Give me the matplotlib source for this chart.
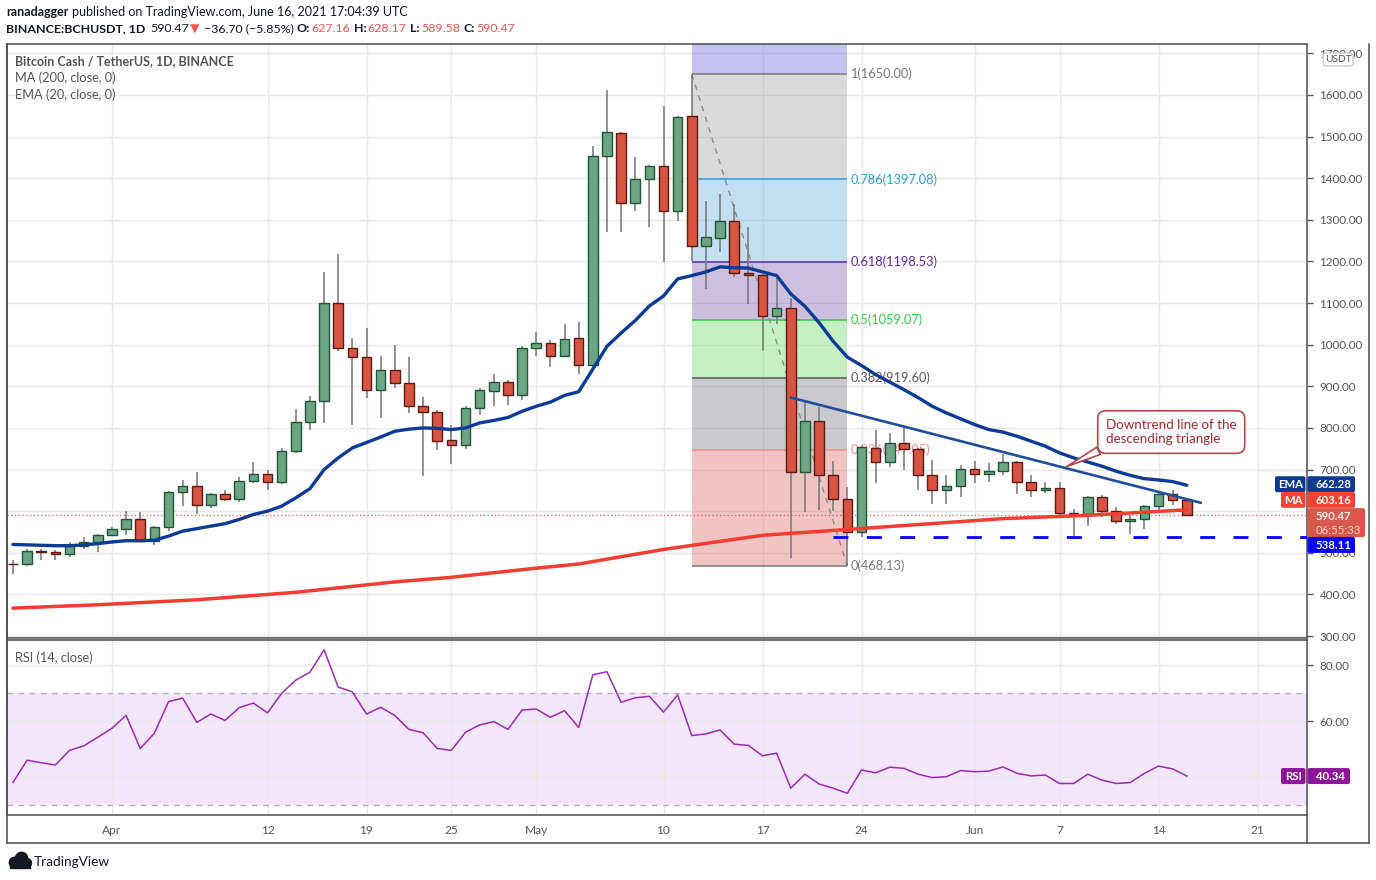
import numpy as np
import pandas as pd
import matplotlib
matplotlib.use("Agg")
import matplotlib.pyplot as plt
from matplotlib.patches import Rectangle, FancyBboxPatch, Circle
from matplotlib.colors import to_rgb

plt.rcParams["font.family"] = ["Lato", "DejaVu Sans"]

# ---------------- data ----------------
dates = pd.date_range("2021-03-25", "2021-06-16", freq="D")
opens = [474, 472, 505, 501, 496, 517, 525, 542, 556, 580,
         529, 561, 647, 661, 615, 642, 630, 673, 690, 671,
         745, 814, 864, 1101, 991, 971, 891, 938, 907, 852,
         838, 771, 759, 848, 888, 910, 879, 993, 1003, 972,
         1015, 951, 1453, 1508, 1340, 1398, 1429, 1321, 1549, 1237,
         1256, 1297, 1172, 1167, 1069, 1087, 694, 816, 687, 630,
         550, 752, 718, 764, 750, 687, 651, 660, 702, 690,
         697, 718, 670, 650, 656, 596, 593, 634, 601, 577,
         580, 612, 641, 627.16]
highs = [482, 509, 510, 507, 525, 537, 545, 561, 600, 597,
         565, 649, 674, 695, 644, 650, 681, 717, 700, 752,
         846, 877, 1174, 1218, 1015, 1039, 973, 999, 970, 875,
         844, 808, 852, 895, 930, 915, 998, 1030, 1011, 1049,
         1055, 1478, 1612, 1512, 1450, 1431, 1574, 1550, 1650, 1346,
         1362, 1338, 1283, 1170, 1164, 1112, 864, 850, 720, 658,
         756, 794, 788, 808, 752, 722, 687, 712, 720, 716,
         737, 720, 687, 670, 670, 604, 636, 640, 610, 591,
         615, 643, 652, 628.17]
lows = [450, 469, 483, 483, 491, 509, 502, 540, 543, 529,
        518, 553, 612, 594, 608, 624, 622, 667, 651, 666,
        740, 796, 813, 985, 806, 871, 825, 897, 837, 684,
        746, 713, 750, 830, 852, 856, 868, 974, 947, 970,
        929, 945, 1270, 1270, 1322, 1282, 1198, 1298, 1200, 1133,
        1222, 1162, 1098, 986, 1050, 488, 598, 602, 600, 468.13,
        538, 668, 706, 698, 650, 618, 616, 634, 668, 670,
        686, 642, 634, 644, 588, 540, 565, 586, 569, 545,
        557, 598, 614, 589.58]
closes = [472, 505, 501, 496, 517, 525, 542, 556, 580, 529,
          561, 647, 661, 615, 642, 630, 673, 690, 671, 745,
          814, 864, 1101, 991, 971, 891, 938, 907, 852, 838,
          769, 759, 848, 891, 910, 879, 993, 1003, 972, 1013,
          950, 1453, 1510, 1340, 1398, 1429, 1321, 1546, 1237, 1258,
          1297, 1172, 1167, 1069, 1087, 694, 816, 687, 630, 550,
          754, 718, 764, 750, 687, 651, 660, 702, 690, 697,
          718, 670, 650, 656, 596, 593, 634, 601, 577, 580,
          612, 641, 627, 590.47]
ema20 = [520, 519, 518, 517, 517, 519, 522, 526, 529, 529,
         530, 540, 552, 558, 564, 570, 580, 592, 600, 612,
         632, 654, 700, 728, 752, 765, 778, 792, 797, 800,
         799, 796, 800, 812, 818, 825, 840, 852, 862, 878,
         887, 941, 996, 1028, 1058, 1093, 1117, 1158, 1166, 1175,
         1187, 1185, 1184, 1175, 1166, 1122, 1092, 1053, 1008, 970,
         950, 928, 910, 892, 873, 852, 836, 822, 808, 796,
         790, 780, 768, 756, 740, 728, 718, 708, 696, 686,
         678, 675, 671, 662.28]
ma200_dates = ["2021-03-25", "2021-03-31", "2021-04-07", "2021-04-14", "2021-04-21",
               "2021-04-25", "2021-05-01", "2021-05-04", "2021-05-10", "2021-05-17",
               "2021-05-23", "2021-06-03", "2021-06-09", "2021-06-16"]
ma200_values = [367, 375, 387, 405, 430, 441, 463, 473, 508, 542, 556, 582, 590, 603.16]
rsi14 = [38.0, 46.0, 45.1, 44.3, 49.5, 51.1, 54.2, 57.4, 62.0, 50.2,
         55.6, 66.9, 68.2, 59.5, 62.5, 60.2, 64.8, 66.4, 62.9, 69.9,
         74.6, 77.4, 85.4, 72.1, 70.4, 62.5, 64.9, 62.0, 57.0, 55.8,
         50.2, 49.5, 56.0, 58.6, 59.8, 57.0, 63.9, 64.3, 61.3, 63.7,
         57.7, 76.5, 77.6, 66.7, 68.3, 68.8, 63.2, 69.3, 54.8, 55.4,
         56.8, 51.7, 51.3, 47.6, 48.5, 36.0, 41.0, 37.5, 36.0, 34.2,
         42.5, 41.5, 43.5, 43.1, 41.0, 39.8, 40.1, 42.3, 41.9, 42.1,
         43.6, 41.3, 40.4, 40.7, 37.7, 37.7, 41.0, 38.9, 37.7, 38.0,
         41.3, 43.9, 42.9, 40.34]

fib_start, fib_end = "2021-05-12", "2021-05-23"
fib_high, fib_low = 1650.00, 468.13
fib_levels = [1.618, 1, 0.786, 0.618, 0.5, 0.382, 0.236, 0]

trend_dates = ["2021-05-19", "2021-06-17"]
trend_prices = [873, 620]

support_start = "2021-05-22"
support_price = 538.11

last_price = 590.47
last_change = "\u221236.70 (\u22125.85%)"
ohlc_labels = ["O:", "H:", "L:", "C:"]
ohlc_values = ["627.16", "628.17", "589.58", "590.47"]
last_ema = 662.28
last_ma = 603.16
last_rsi = 40.34
countdown = "06:55:33"

tick_dates = ["2021-04-01", "2021-04-12", "2021-04-19", "2021-04-25", "2021-05-01",
              "2021-05-10", "2021-05-17", "2021-05-24", "2021-06-01", "2021-06-07",
              "2021-06-14", "2021-06-21"]
tick_labels = ["Apr", "12", "19", "25", "May", "10", "17", "24", "Jun", "7", "14", "21"]
price_ticks = list(range(300, 1800, 100))
rsi_ticks = [40, 60, 80]
# tick labels that sit fully behind the value badges on the right scale
covered_price_ticks = [600]
covered_rsi_ticks = [40]

# ---------------- layout ----------------
W, H = 1376, 880
fig = plt.figure(figsize=(W / 100, H / 100), dpi=100)
fig.patch.set_facecolor("white")

def fx(p):
    return p / W

def fy(p):
    return 1 - p / H

LEFT, RIGHT = 7, 1307
ax = fig.add_axes([fx(LEFT), fy(638), fx(RIGHT - LEFT), (638 - 44) / H])
axr = fig.add_axes([fx(LEFT), fy(815), fx(RIGHT - LEFT), (815 - 640) / H])

def dpos(d):
    return (pd.Timestamp(d) - dates[0]).days

xs = np.asarray((dates - dates[0]).days, dtype=float)
o = np.asarray(opens, float); h = np.asarray(highs, float)
l = np.asarray(lows, float); c = np.asarray(closes, float)

XMIN, XMAX = -0.42, 91.5
for a in (ax, axr):
    a.set_xlim(XMIN, XMAX)
    a.set_axisbelow(True)
    for s in a.spines.values():
        s.set_color("#4d4d4d")
        s.set_linewidth(1.1)
ax.set_ylim(295.2, 1722.5)
axr.set_ylim(26.43, 88.93)

grid_c = "#e9e9e9"
tick_x = [dpos(d) for d in tick_dates]
for a in (ax, axr):
    a.set_xticks(tick_x)
    a.grid(True, color=grid_c, lw=1.0)
ax.set_xticklabels([])
ax.tick_params(axis="x", length=0)
axr.set_xticklabels(tick_labels)
axr.tick_params(axis="x", length=0, pad=7, labelsize=8.6, colors="#555555")

ax.yaxis.tick_right()
ax.set_yticks(price_ticks)
ax.set_yticklabels(["" if v in covered_price_ticks else f"{v:.2f}" for v in price_ticks])
axr.yaxis.tick_right()
axr.set_yticks(rsi_ticks)
axr.set_yticklabels(["" if v in covered_rsi_ticks else f"{v:.2f}" for v in rsi_ticks])
for a in (ax, axr):
    a.tick_params(axis="y", length=4, width=1, pad=5, labelsize=8.4,
                  colors="#555555", direction="out")

# ---------------- fibonacci retracement ----------------
fx0, fx1 = dpos(fib_start), dpos(fib_end)
rng = fib_high - fib_low
fib_prices = [fib_low + lv * rng for lv in fib_levels]
level_colors = ["#5b5be0", "#787878", "#2a9fd8", "#5b2ca0", "#2ecc40",
                "#5a5a5a", "#ee8c8c", "#787878"]
band_targets = ["#c3c3f0", "#dadada", "#c3e0f2", "#cdbfe0", "#c4f0c4",
                "#cbcbcf", "#f1c4c4"]
ALPHA = 0.45

def base_for(target):
    t = np.array(to_rgb(target))
    return tuple(np.clip(1 - (1 - t) / ALPHA, 0, 1))

for k in range(len(fib_levels) - 1):
    ax.fill_between([fx0, fx1], fib_prices[k + 1], fib_prices[k],
                    color=base_for(band_targets[k]), alpha=ALPHA, lw=0, zorder=0.6)
for lv, p, col in zip(fib_levels, fib_prices, level_colors):
    if p > ax.get_ylim()[1]:
        continue
    ax.hlines(p, fx0, fx1, colors=col, lw=1.1, zorder=1)
    ax.text(fx1 + 0.2, p, f"{lv:g}({p + 1e-6:.2f})", color=col, fontsize=9.2,
            va="center", ha="left", zorder=1, clip_on=True)
ax.plot([fx0, fx1], [fib_high, fib_low], color="#8c8c8c", lw=1.0,
        ls=(0, (4, 4)), zorder=1.2)

# ---------------- last price line ----------------
ax.axhline(last_price, color="#ef5350", lw=0.9, ls=(0, (1, 2)), zorder=1.5)

# ---------------- candles ----------------
up = c >= o
body_bottom = np.minimum(o, c)
body_h = np.maximum(np.abs(c - o), 2.0)
ax.vlines(xs, l, h, colors="#747476", lw=1.1, zorder=2)
ax.bar(xs, body_h, bottom=body_bottom, width=0.68,
       color=np.where(up, "#6ba583", "#d75442"),
       edgecolor=np.where(up, "#225437", "#5b1a13"), linewidth=1.0, zorder=3)

# ---------------- indicators ----------------
ax.plot([dpos(d) for d in ma200_dates], ma200_values, color="#f23d30", lw=2.5,
        zorder=4.8, solid_capstyle="round")
ax.plot(xs, ema20, color="#0c3a97", lw=2.4, zorder=5, solid_capstyle="round")
ax.plot([dpos(d) for d in trend_dates], trend_prices, color="#1f4f9c", lw=1.9,
        zorder=5.2, solid_capstyle="round")
ax.hlines(support_price, dpos(support_start), XMAX, colors="#0000ff", lw=2.0,
          linestyles=(0, (5.4, 6.6)), zorder=5.5)

ax.annotate("Downtrend line of the\ndescending triangle",
            xy=(74.5, 707), xycoords="data", xytext=(81.9, 790), textcoords="data",
            ha="center", va="center", multialignment="left", fontsize=9.6,
            color="#a8242a", zorder=8,
            bbox=dict(boxstyle="round,pad=0.62,rounding_size=0.6", fc="white",
                      ec="#b5474b", lw=1.2),
            arrowprops=dict(arrowstyle="wedge,tail_width=0.6", fc="white",
                            ec="#b5474b", lw=1.2, relpos=(0.08, 0.12),
                            shrinkA=0, shrinkB=0))

# ---------------- RSI ----------------
axr.axhspan(30, 70, color="#f3e6fd", lw=0, zorder=0.2)
for lvl in (70, 30):
    axr.axhline(lvl, color="#b4a9bd", lw=1.0, ls=(0, (4, 4)), zorder=1)
axr.plot(xs, rsi14, color="#9c2bb3", lw=1.1, zorder=3)

# ---------------- overlay (frame, header, labels) ----------------
ov = fig.add_axes([0, 0, 1, 1], zorder=20)
ov.set_xlim(0, W)
ov.set_ylim(H, 0)
ov.axis("off")
ov.patch.set_alpha(0)

fc = "#4d4d4d"
ov.plot([7, 7], [44, 843], color=fc, lw=1.1)
ov.plot([7, 1369], [843, 843], color=fc, lw=1.1)
ov.plot([1369, 1369], [44, 843], color=fc, lw=1.1)
ov.plot([1307, 1307], [815, 843], color=fc, lw=1.1)

renderer = fig.canvas.get_renderer()
dark = "#131722"
red = "#ef5350"

def runs(x, y, parts, size):
    for s, col, wt, gap in parts:
        t = ov.text(x, y, s, color=col, fontsize=size, fontweight=wt,
                    va="center", ha="left")
        x += t.get_window_extent(renderer).width + gap

runs(6, 12, [("ranadagger", dark, "bold", 3),
             ("published on TradingView.com, June 16, 2021 17:04:39 UTC", dark, "normal", 0)], 9.0)
line2 = [("BINANCE:BCHUSDT, 1D", dark, "bold", 5),
         (f"{last_price:.2f}", dark, "normal", 1),
         ("\u25bc", red, "normal", 4),
         (last_change, dark, "normal", 3)]
for lab, val in zip(ohlc_labels, ohlc_values):
    line2.append((lab, dark, "bold", 1))
    line2.append((val, red, "normal", 4))
runs(6, 29, line2, 8.9)

leg_c = "#555555"
ov.text(15, 61, "Bitcoin Cash / TetherUS, 1D, BINANCE", color=leg_c, fontsize=9.0,
        fontweight="bold", va="center")
ov.text(15, 78, "MA (200, close, 0)", color=leg_c, fontsize=9.2, va="center")
ov.text(15, 95, "EMA (20, close, 0)", color=leg_c, fontsize=9.2, va="center")
ov.text(15, 658, "RSI (14, close)", color=leg_c, fontsize=9.2, va="center")

# USDT unit badge
ov.add_patch(FancyBboxPatch((1323, 53), 30, 13, boxstyle="round,pad=0,rounding_size=3",
                            fc="white", ec="#c9c9c9", lw=1))
ov.text(1338, 59.7, "USDT", color="#555555", fontsize=7.4, ha="center", va="center")

def ypx(a, v):
    return H - a.transData.transform((0, v))[1]

def rbox(x0, x1, yc, hgt, color):
    ov.add_patch(FancyBboxPatch((x0, yc - hgt / 2), x1 - x0, hgt,
                                boxstyle="round,pad=0,rounding_size=2",
                                fc=color, ec="none"))

def tag(label, value_txt, yc, color, tag_x0, val_x1):
    rbox(tag_x0, 1305.5, yc, 16, color)
    rbox(1307.5, val_x1, yc, 16, color)
    ov.text((tag_x0 + 1305.5) / 2, yc + 0.5, label, color="white", fontsize=8.2,
            fontweight="bold", ha="center", va="center")
    ov.text(1316, yc + 0.5, value_txt, color="white", fontsize=8.2,
            fontweight="bold", ha="left", va="center")

tag("EMA", f"{last_ema:.2f}", ypx(ax, last_ema) - 1, "#0e3a91", 1275, 1355)
tag("MA", f"{last_ma:.2f}", ypx(ax, last_ma) - 10, "#f44336", 1281, 1355)
ylp = ypx(ax, last_price)
rbox(1307.5, 1365, ylp + 7.5, 29, "#d9574a")
ov.text(1316, ylp + 1, f"{last_price:.2f}", color="#fff3f1", fontsize=8.2,
        fontweight="bold", ha="left", va="center")
ov.text(1316, ylp + 15, countdown, color="#f8d2cc", fontsize=8.2,
        ha="left", va="center")
ys = ypx(ax, support_price) + 8
rbox(1307.5, 1355, ys, 16, "#0000ff")
ov.text(1316, ys + 0.5, f"{support_price:.2f}", color="white", fontsize=8.2,
        fontweight="bold", ha="left", va="center")
tag("RSI", f"{last_rsi:.2f}", ypx(axr, last_rsi), "#8e1599", 1281, 1350)

# TradingView logo
logo_c = "#131722"
ov.add_patch(Circle((14.5, 862.5), 5.2, color=logo_c))
ov.add_patch(Circle((21.5, 858.5), 6.2, color=logo_c))
ov.add_patch(Circle((27, 863), 4.5, color=logo_c))
ov.add_patch(Rectangle((10, 862), 20, 6.5, color=logo_c))
ov.text(34, 861.5, "TradingView", color=logo_c, fontsize=9.8, va="center", ha="left")

fig.savefig("out.png", dpi=100, facecolor="white")
